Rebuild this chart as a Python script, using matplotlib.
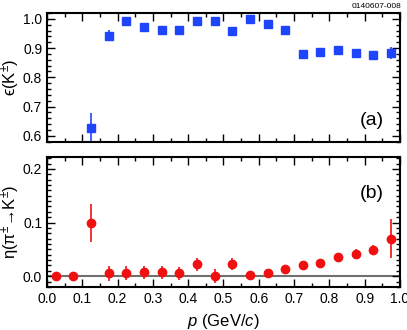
import numpy as np
import matplotlib.pyplot as plt
from matplotlib.ticker import MultipleLocator

plt.rcParams['font.family'] = ['Liberation Sans', 'DejaVu Sans']
plt.rcParams['mathtext.fontset'] = 'custom'
plt.rcParams['mathtext.rm'] = 'Liberation Sans'
plt.rcParams['mathtext.it'] = 'Liberation Sans:italic'

# momentum bin centres (GeV/c)
p_eff = [0.125, 0.175, 0.225, 0.275, 0.325, 0.375, 0.425, 0.475, 0.525,
         0.575, 0.625, 0.675, 0.725, 0.775, 0.825, 0.875, 0.925, 0.975]
eff = [0.627, 0.943, 0.992, 0.973, 0.963, 0.963, 0.993, 0.993, 0.958,
       0.999, 0.984, 0.963, 0.879, 0.888, 0.893, 0.884, 0.877, 0.884]
eff_err = [0.05, 0.018, 0.012, 0.008, 0.008, 0.008, 0.007, 0.007, 0.007,
           0.006, 0.006, 0.006, 0.006, 0.006, 0.006, 0.007, 0.008, 0.02]

p_fake = [0.025, 0.075, 0.125, 0.175, 0.225, 0.275, 0.325, 0.375, 0.425, 0.475,
          0.525, 0.575, 0.625, 0.675, 0.725, 0.775, 0.825, 0.875, 0.925, 0.975]
fake = [0.0, 0.0, 0.099, 0.005, 0.006, 0.0075, 0.0075, 0.005, 0.022, 0.001,
        0.022, 0.0025, 0.006, 0.014, 0.02, 0.024, 0.036, 0.042, 0.049, 0.070]
fake_err = [0.002, 0.002, 0.035, 0.014, 0.013, 0.012, 0.012, 0.012, 0.012, 0.013,
            0.011, 0.005, 0.006, 0.004, 0.004, 0.004, 0.005, 0.008, 0.009, 0.037]

blue = '#1f45fc'
red = '#f01010'

fig = plt.figure(figsize=(4.07, 3.30), dpi=100)
ax1 = fig.add_axes([0.1155, 0.571, 0.867, 0.3896])
ax2 = fig.add_axes([0.1155, 0.129, 0.867, 0.395])

for ax in (ax1, ax2):
    ax.set_xlim(0, 1)
    ax.xaxis.set_major_locator(MultipleLocator(0.1))
    ax.xaxis.set_minor_locator(MultipleLocator(0.05))
    ax.tick_params(which='both', direction='in', top=True, right=True,
                   width=1.0, labelsize=10)
    ax.tick_params(which='major', length=6)
    ax.tick_params(which='minor', length=3)
    for s in ax.spines.values():
        s.set_linewidth(1.5)

ax1.errorbar(p_eff, eff, yerr=eff_err, fmt='s', color=blue, ms=6,
             elinewidth=1.2, capsize=0)
ax1.set_ylim(0.58, 1.02)
ax1.yaxis.set_major_locator(MultipleLocator(0.1))
ax1.yaxis.set_minor_locator(MultipleLocator(0.02))
ax1.set_xticklabels([])
ax1.set_ylabel(r'ϵ(K$^{\pm}$)', fontsize=12)
ax1.yaxis.set_label_coords(-0.07, 0.5)
ax1.text(0.955, 0.16, '(a)', transform=ax1.transAxes, ha='right', va='center',
         fontsize=14)

ax2.axhline(0, color='#707070', lw=1.5, zorder=1)
ax2.errorbar(p_fake, fake, yerr=fake_err, fmt='o', color=red, ms=6,
             elinewidth=1.2, capsize=0, zorder=3)
ax2.set_ylim(-0.021, 0.222)
ax2.yaxis.set_major_locator(MultipleLocator(0.1))
ax2.yaxis.set_minor_locator(MultipleLocator(0.01))
ax2.set_xticks(np.arange(0, 1.01, 0.1))
ax2.set_xticklabels([f'{v:.1f}' for v in np.arange(0, 1.01, 0.1)])
ax2.set_ylabel(r'η(π$^{\pm}$→K$^{\pm}$)', fontsize=12)
ax2.yaxis.set_label_coords(-0.07, 0.5)
ax2.set_xlabel(r'$p$ (GeV/$c$)', fontsize=12, labelpad=4)
ax2.text(0.955, 0.72, '(b)', transform=ax2.transAxes, ha='right', va='center',
         fontsize=14)

fig.text(0.985, 0.99, '0140607-008', ha='right', va='top', fontsize=6)

fig.savefig('out.png', dpi=100)
